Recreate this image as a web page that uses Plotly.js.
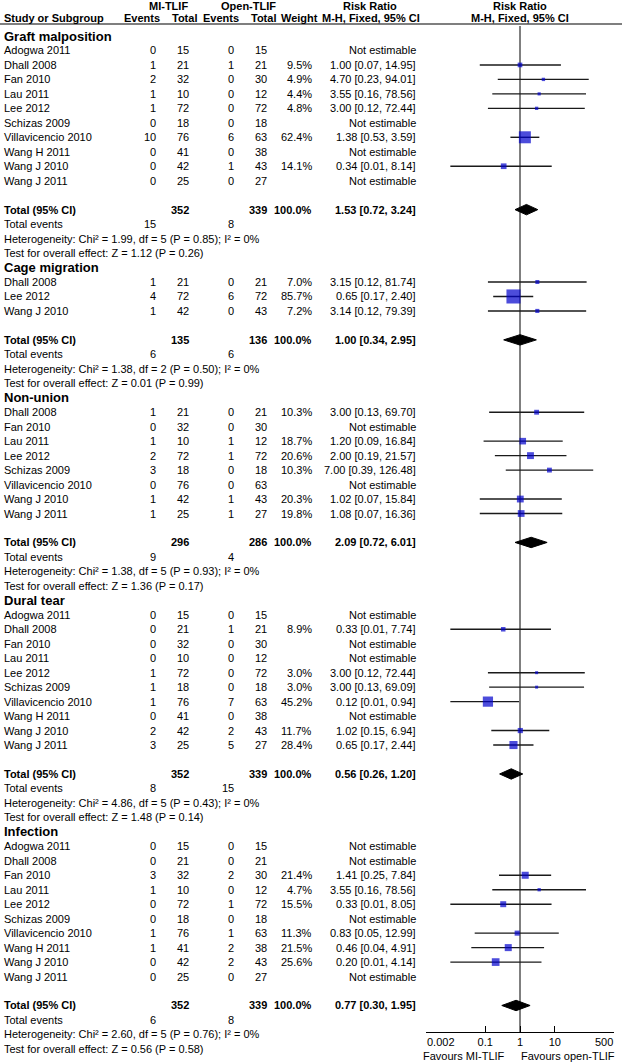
<!DOCTYPE html>
<html>
<head>
<meta charset="utf-8">
<script src="https://cdn.plot.ly/plotly-3.0.1.min.js"></script>
<style>
  html, body { margin: 0; padding: 0; background: #fff; }
  #forest { width: 622px; height: 1063px; }
</style>
</head>
<body>
<div id="forest"></div>
<script>
// Subgroups
const groupNames = ['Graft malposition', 'Cage migration', 'Non-union', 'Dural tear', 'Infection'];
const groupTotalMI = [352, 135, 296, 352, 352];
const groupTotalOpen = [339, 136, 286, 339, 339];
const groupEventsMI = [15, 6, 9, 8, 6];
const groupEventsOpen = [8, 6, 4, 15, 8];
const groupRR = [1.53, 1.00, 2.09, 0.56, 0.77];
const groupLow = [0.72, 0.34, 0.72, 0.26, 0.30];
const groupHigh = [3.24, 2.95, 6.01, 1.20, 1.95];
const groupChi2 = [1.99, 1.38, 1.38, 4.86, 2.60];
const groupDf = [5, 2, 5, 5, 5];
const groupPhet = [0.85, 0.50, 0.93, 0.43, 0.76];
const groupI2 = [0, 0, 0, 0, 0];
const groupZ = [1.12, 0.01, 1.36, 1.48, 0.56];
const groupPz = [0.26, 0.99, 0.17, 0.14, 0.58];

// Studies (null = not estimable)
const studyGroup = [0,0,0,0,0,0,0,0,0,0, 1,1,1, 2,2,2,2,2,2,2,2, 3,3,3,3,3,3,3,3,3,3, 4,4,4,4,4,4,4,4,4,4];
const studyName = [
  'Adogwa 2011', 'Dhall 2008', 'Fan 2010', 'Lau 2011', 'Lee 2012', 'Schizas 2009', 'Villavicencio 2010', 'Wang H 2011', 'Wang J 2010', 'Wang J 2011',
  'Dhall 2008', 'Lee 2012', 'Wang J 2010',
  'Dhall 2008', 'Fan 2010', 'Lau 2011', 'Lee 2012', 'Schizas 2009', 'Villavicencio 2010', 'Wang J 2010', 'Wang J 2011',
  'Adogwa 2011', 'Dhall 2008', 'Fan 2010', 'Lau 2011', 'Lee 2012', 'Schizas 2009', 'Villavicencio 2010', 'Wang H 2011', 'Wang J 2010', 'Wang J 2011',
  'Adogwa 2011', 'Dhall 2008', 'Fan 2010', 'Lau 2011', 'Lee 2012', 'Schizas 2009', 'Villavicencio 2010', 'Wang H 2011', 'Wang J 2010', 'Wang J 2011'
];
const eventsMI =   [0,1,2,1,1,0,10,0,0,0, 1,4,1, 1,0,1,2,3,0,1,1, 0,0,0,0,1,1,1,0,2,3, 0,0,3,1,0,0,1,1,0,0];
const totalMI =    [15,21,32,10,72,18,76,41,42,25, 21,72,42, 21,32,10,72,18,76,42,25, 15,21,32,10,72,18,76,41,42,25, 15,21,32,10,72,18,76,41,42,25];
const eventsOpen = [0,1,0,0,0,0,6,0,1,0, 0,6,0, 0,0,1,1,0,0,1,1, 0,1,0,0,0,0,7,0,2,5, 0,0,2,0,1,0,1,2,2,0];
const totalOpen =  [15,21,30,12,72,18,63,38,43,27, 21,72,43, 21,30,12,72,18,63,43,27, 15,21,30,12,72,18,63,38,43,27, 15,21,30,12,72,18,63,38,43,27];
const weightPct = [null,9.5,4.9,4.4,4.8,null,62.4,null,14.1,null,
  7.0,85.7,7.2,
  10.3,null,18.7,20.6,10.3,null,20.3,19.8,
  null,8.9,null,null,3.0,3.0,45.2,null,11.7,28.4,
  null,null,21.4,4.7,15.5,null,11.3,21.5,25.6,null];
const riskRatio = [null,1.00,4.70,3.55,3.00,null,1.38,null,0.34,null,
  3.15,0.65,3.14,
  3.00,null,1.20,2.00,7.00,null,1.02,1.08,
  null,0.33,null,null,3.00,3.00,0.12,null,1.02,0.65,
  null,null,1.41,3.55,0.33,null,0.83,0.46,0.20,null];
const ciLow = [null,0.07,0.23,0.16,0.12,null,0.53,null,0.01,null,
  0.12,0.17,0.12,
  0.13,null,0.09,0.19,0.39,null,0.07,0.07,
  null,0.01,null,null,0.12,0.13,0.01,null,0.15,0.17,
  null,null,0.25,0.16,0.01,null,0.05,0.04,0.01,null];
const ciHigh = [null,14.95,94.01,78.56,72.44,null,3.59,null,8.14,null,
  81.74,2.40,79.39,
  69.70,null,16.84,21.57,126.48,null,15.84,16.36,
  null,7.74,null,null,72.44,69.09,0.94,null,6.94,2.44,
  null,null,7.84,78.56,8.05,null,12.99,4.91,4.14,null];

// Axis
const tickVals = [0.002, 0.1, 1, 10, 500];
const tickText = ['0.002', '0.1', '1', '10', '500'];
const favourLeft = 'Favours MI-TLIF';
const favourRight = 'Favours open-TLIF';

// ---- layout helpers ----
const W = 622, H = 1063;
const ROW0 = 36, ROWH = 14.47;          // pixel y of first row and row height
const row = p => (p - ROW0) / ROWH;      // pixel y -> row units
const px = p => p / W;                   // pixel x -> paper
const FONT = 'Liberation Sans, Arial, sans-serif';

const annotations = [];
function txt(text, x, y, anchor, size, bold) {
  annotations.push({
    text: bold ? '<b>' + text + '</b>' : text,
    x: px(x), xref: 'paper', xanchor: anchor,
    y: y, yref: 'y', yanchor: 'middle',
    showarrow: false, borderpad: 0,
    font: { family: FONT, size: size || 11, color: '#000' }
  });
}

// column positions
const colStudy = 3, colEvMI = 157, colTotMI = 190, colEvOp = 235, colTotOp = 268, colW = 313, colCI = 417;

// header
txt('MI-TLIF', 168, row(6), 'center', 11, true);
txt('Open-TLIF', 248, row(6), 'center', 11, true);
txt('Risk Ratio', 370, row(6), 'center', 11, true);
txt('Risk Ratio', 520, row(6), 'center', 11, true);
txt('Study or Subgroup', colStudy, row(18), 'left', 11, true);
txt('Events', colEvMI + 4, row(18), 'right', 11, true);
txt('Total', colTotMI + 8, row(18), 'right', 11, true);
txt('Events', colEvOp + 5, row(18), 'right', 11, true);
txt('Total', colTotOp + 9, row(18), 'right', 11, true);
txt('Weight', colW + 6, row(18), 'right', 11, true);
txt('M-H, Fixed, 95% CI', colCI + 4, row(18), 'right', 11, true);
txt('M-H, Fixed, 95% CI', 520, row(18), 'center', 11, true);

const fmt = v => v.toFixed(2);
const ciText = (r, l, h) => fmt(r) + ' [' + fmt(l) + ', ' + fmt(h) + ']';

const ciX = [], ciY = [], sqX = [], sqY = [], sqS = [], dX = [], dY = [];
let r = 0;
groupNames.forEach((g, gi) => {
  txt(g, colStudy, r, 'left', 13, true);
  r++;
  studyGroup.forEach((sg, i) => {
    if (sg !== gi) return;
    txt(studyName[i], colStudy, r, 'left');
    txt(String(eventsMI[i]), colEvMI, r, 'right');
    txt(String(totalMI[i]), colTotMI, r, 'right');
    txt(String(eventsOpen[i]), colEvOp, r, 'right');
    txt(String(totalOpen[i]), colTotOp, r, 'right');
    if (riskRatio[i] === null) {
      txt('Not estimable', colCI, r, 'right');
    } else {
      txt(weightPct[i].toFixed(1) + '%', colW, r, 'right');
      txt(ciText(riskRatio[i], ciLow[i], ciHigh[i]), colCI, r, 'right');
      ciX.push(ciLow[i], ciHigh[i], null);
      ciY.push(r, r, null);
      sqX.push(riskRatio[i]);
      sqY.push(r);
      sqS.push(Math.max(3, 1.52 * Math.sqrt(weightPct[i])));
    }
    r++;
  });
  r++; // blank line
  txt('Total (95% CI)', colStudy, r, 'left', 11, true);
  txt(String(groupTotalMI[gi]), colTotMI, r, 'right', 11, true);
  txt(String(groupTotalOpen[gi]), colTotOp, r, 'right', 11, true);
  txt('100.0%', colW, r, 'right', 11, true);
  txt(ciText(groupRR[gi], groupLow[gi], groupHigh[gi]), colCI, r, 'right', 11, true);
  const dh = 0.36;
  dX.push(groupLow[gi], groupRR[gi], groupHigh[gi], groupRR[gi], groupLow[gi], null);
  dY.push(r, r - dh, r, r + dh, r, null);
  r++;
  txt('Total events', colStudy, r, 'left');
  txt(String(groupEventsMI[gi]), colEvMI, r, 'right');
  txt(String(groupEventsOpen[gi]), colEvOp, r, 'right');
  r++;
  txt('Heterogeneity: Chi² = ' + groupChi2[gi].toFixed(2) + ', df = ' + groupDf[gi] +
      ' (P = ' + groupPhet[gi].toFixed(2) + '); I² = ' + groupI2[gi] + '%', colStudy, r, 'left');
  r++;
  txt('Test for overall effect: Z = ' + groupZ[gi].toFixed(2) + ' (P = ' + groupPz[gi].toFixed(2) + ')', colStudy, r, 'left');
  r++;
});

// end tick labels are pulled inward so they fit, as in the original
const last = tickVals.length - 1;
[[0, 'left'], [last, 'right']].forEach(([k, anchor]) => {
  annotations.push({
    text: tickText[k], x: Math.log10(tickVals[k]), xref: 'x', xanchor: anchor,
    y: row(1042), yref: 'y', yanchor: 'middle', showarrow: false, borderpad: 0,
    font: { family: FONT, size: 11, color: '#000' }
  });
});
const axisText = tickText.map((t, k) => (k === 0 || k === last) ? '' : t);

// favours labels
txt(favourLeft, 464, row(1056), 'center', 11);
txt(favourRight, 568, row(1056), 'center', 11);

const data = [
  { // line of no effect
    type: 'scatter', mode: 'lines', x: [1, 1], y: [row(26), row(1032)],
    line: { color: '#000', width: 1 }, hoverinfo: 'skip'
  },
  {
    type: 'scatter', mode: 'lines', x: ciX, y: ciY, connectgaps: false,
    line: { color: '#1a1a1a', width: 1.4 }, hoverinfo: 'skip'
  },
  {
    type: 'scatter', mode: 'markers', x: sqX, y: sqY,
    marker: { symbol: 'square', color: '#0000cc', size: sqS, line: { width: 0 } },
    hoverinfo: 'x'
  },
  {
    type: 'scatter', mode: 'lines', x: dX, y: dY, fill: 'toself', fillcolor: '#000',
    line: { color: '#000', width: 1 }, hoverinfo: 'skip'
  }
];

const layout = {
  width: W, height: H,
  margin: { l: 0, r: 0, t: 0, b: 0 },
  paper_bgcolor: '#fff', plot_bgcolor: '#fff',
  showlegend: false,
  font: { family: FONT, size: 11, color: '#000' },
  xaxis: {
    type: 'log',
    range: [Math.log10(0.002), Math.log10(500)],
    domain: [px(426), px(614)],
    anchor: 'free', position: (H - 1032) / H,
    showline: true, linecolor: '#000', linewidth: 1,
    ticks: 'inside', ticklen: 6, tickcolor: '#000',
    tickmode: 'array', tickvals: tickVals, ticktext: axisText,
    showgrid: false, zeroline: false,
    tickfont: { family: FONT, size: 11, color: '#000' }
  },
  yaxis: {
    range: [row(H), row(0)],
    domain: [0, 1],
    visible: false, showgrid: false, zeroline: false
  },
  shapes: [{
    type: 'line', xref: 'paper', yref: 'y', x0: 0, x1: 1, y0: row(24), y1: row(24),
    line: { color: '#000', width: 1.2 }
  }],
  annotations: annotations
};

Plotly.newPlot('forest', data, layout, { displayModeBar: false, staticPlot: true });
</script>
</body>
</html>
